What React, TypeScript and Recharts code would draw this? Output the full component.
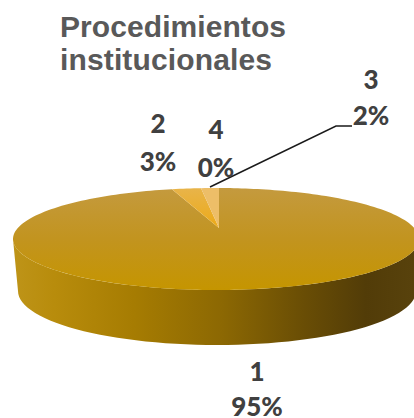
import React from "react";
import { PieChart, Pie, Cell } from "recharts";

const categories = ["1", "2", "3", "4"];
const shares = [95, 3, 2, 0];
const fills = ["url(#faceMain)", "url(#faceTwo)", "#EDBE68", "#F2D08A"];
const titleLines = ["Procedimientos", "institucionales"];

const chartData = categories.map((name, i) => ({ name, value: shares[i] }));

const W = 414, H = 418;
const CX = 216, CY = 239, RX = 203, RY = 51;
const APEX = { x: 219, y: 228 };
const BOTTOM = { cx: 217, cy: 291, rx: 199, ry: 54 };

// Perspective: the far rim is foreshortened, so angles near the back are compressed.
const warp = (phi: number) => {
  const p = phi > 180 ? phi - 360 : phi;
  const k = 0.68 + 0.32 * Math.min(1, Math.abs(p) / 90);
  return p * k + 0.85;
};
const rim = (phi: number) => {
  const a = (warp(phi) * Math.PI) / 180;
  return [CX + RX * Math.sin(a), CY - RY * Math.cos(a)];
};

function EllipseSector(props: any) {
  const from = 90 - props.startAngle;
  const to = 90 - props.endAngle;
  const steps = Math.max(2, Math.ceil(Math.abs(to - from) / 1.5));
  const pts: string[] = [`${APEX.x},${APEX.y}`];
  for (let i = 0; i <= steps; i++) {
    const [x, y] = rim(from + ((to - from) * i) / steps);
    pts.push(`${x.toFixed(2)},${y.toFixed(2)}`);
  }
  let wall: React.ReactNode = null;
  if (props.value === shares[0]) {
    const front: string[] = [];
    const back: string[] = [];
    for (let d = 90; d <= 270; d += 3) {
      const a = (d * Math.PI) / 180;
      front.push(`${(CX + RX * Math.sin(a)).toFixed(2)},${(CY - RY * Math.cos(a)).toFixed(2)}`);
      back.unshift(`${(BOTTOM.cx + BOTTOM.rx * Math.sin(a)).toFixed(2)},${(BOTTOM.cy - BOTTOM.ry * Math.cos(a)).toFixed(2)}`);
    }
    wall = <polygon points={[...front, ...back].join(" ")} fill="url(#wall)" stroke="none" />;
  }
  return (
    <g>
      {wall}
      <polygon points={pts.join(" ")} fill={props.fill} stroke="none" />
    </g>
  );
}

const labelSpots = [
  { x: 257, y1: 381, y2: 416 },
  { x: 158, y1: 133, y2: 171 },
  { x: 371, y1: 89, y2: 125 },
  { x: 216, y1: 139, y2: 177 },
];

const labelStyle = {
  fontFamily: "Lato, Carlito, sans-serif",
  fontWeight: 900,
  fontSize: 26,
  fill: "#404040",
};

export default function App() {
  return (
    <div style={{ position: "absolute", left: 0, top: 0, width: W, height: H, background: "#fff", overflow: "hidden" }}>
      <PieChart width={W} height={H} margin={{ top: 0, right: 0, bottom: 0, left: 0 }}>
        <defs>
          <linearGradient id="faceMain" gradientUnits="userSpaceOnUse" x1="0" y1="188" x2="0" y2="290">
            <stop offset="0" stopColor="#C49A3E" />
            <stop offset="0.5" stopColor="#C2941F" />
            <stop offset="1" stopColor="#C59500" />
          </linearGradient>
          <linearGradient id="faceTwo" gradientUnits="userSpaceOnUse" x1="0" y1="188" x2="0" y2="228">
            <stop offset="0" stopColor="#E8B44A" />
            <stop offset="1" stopColor="#ECAA18" />
          </linearGradient>
          <linearGradient id="wall" gradientUnits="userSpaceOnUse" x1="14" y1="0" x2="414" y2="0">
            <stop offset="0" stopColor="#BE9418" />
            <stop offset="0.1" stopColor="#B88C0C" />
            <stop offset="0.3" stopColor="#A67C02" />
            <stop offset="0.52" stopColor="#8C6803" />
            <stop offset="0.72" stopColor="#6A4E05" />
            <stop offset="0.88" stopColor="#523C08" />
            <stop offset="1" stopColor="#58420C" />
          </linearGradient>
        </defs>
        <Pie
          data={chartData}
          dataKey="value"
          nameKey="name"
          cx={CX}
          cy={CY}
          outerRadius={RX}
          startAngle={90}
          endAngle={-270}
          stroke="none"
          isAnimationActive={false}
          shape={EllipseSector}
          labelLine={false}
        >
          {chartData.map((d, i) => (
            <Cell key={d.name} fill={fills[i]} />
          ))}
        </Pie>
        <polyline points="352,126 336,126 210,187" fill="none" stroke="#1a1a1a" strokeWidth={1.5} />
        {titleLines.map((t, i) => (
          <text key={t} x={60} y={37 + i * 33} fontFamily="Liberation Sans, Arial, sans-serif" fontWeight={700} fontSize={30} textLength={i === 0 ? 226 : 212} fill="#595959">
            {t}
          </text>
        ))}
        {chartData.map((d, i) => (
          <g key={d.name}>
            <text x={labelSpots[i].x} y={labelSpots[i].y1} textAnchor="middle" {...labelStyle}>{d.name}</text>
            <text x={labelSpots[i].x} y={labelSpots[i].y2} textAnchor="middle" {...labelStyle}>{`${d.value}%`}</text>
          </g>
        ))}
      </PieChart>
    </div>
  );
}
